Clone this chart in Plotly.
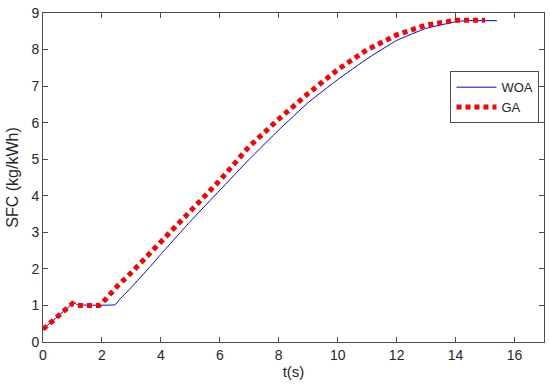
import plotly.graph_objects as go

# WOA series
woa_t = [0, 1.0, 1.05, 1.15, 2.45, 2.55, 3.0, 3.6, 4, 5, 6, 7, 8, 9, 10, 11, 12, 13, 14, 14.4, 15.4]
woa_v = [0.35, 1.05, 1.09, 1.02, 1.02, 1.12, 1.5, 2.03, 2.4, 3.3, 4.15, 5.0, 5.8, 6.55, 7.18, 7.75, 8.25, 8.58, 8.76, 8.79, 8.79]

# GA series
ga_t = [0, 1.0, 1.1, 1.9, 2.0, 2.5, 3, 4, 5, 6, 7, 8, 9, 10, 11, 12, 13, 14, 15.0]
ga_v = [0.35, 1.05, 1.0, 1.0, 1.06, 1.51, 1.9, 2.72, 3.58, 4.42, 5.35, 6.1, 6.8, 7.45, 8.0, 8.4, 8.67, 8.8, 8.8]

x_ticks = [0, 2, 4, 6, 8, 10, 12, 14, 16]
y_ticks = [0, 1, 2, 3, 4, 5, 6, 7, 8, 9]

FONT = "Liberation Sans, Arial"

fig = go.Figure()
fig.add_trace(go.Scatter(x=woa_t, y=woa_v, mode="lines", name="WOA",
                         line=dict(color="#0000ff", width=1, shape="spline", smoothing=0.3)))
fig.add_trace(go.Scatter(x=ga_t, y=ga_v, mode="lines", name="GA",
                         line=dict(color="#ff0000", width=5, dash="5px,4px")))

axis_common = dict(showgrid=False, zeroline=False, showline=True, linecolor="#4d4d4d",
                   linewidth=1, mirror="ticks", ticks="inside", ticklen=5,
                   tickcolor="#4d4d4d", tickfont=dict(family=FONT, size=14, color="#262626"))

fig.update_xaxes(range=[0, 17], tickvals=x_ticks, title=dict(text="t(s)", standoff=3,
                 font=dict(family=FONT, size=15, color="#262626")), **axis_common)
fig.update_yaxes(range=[0, 9], tickvals=y_ticks, title=dict(text="SFC (kg/kWh)", standoff=8,
                 font=dict(family=FONT, size=16, color="#262626")), **axis_common)

fig.update_layout(
    width=550, height=384,
    margin=dict(l=43, r=5, t=9, b=42),
    paper_bgcolor="white", plot_bgcolor="white",
    showlegend=True,
    legend=dict(x=0.991, y=0.823, xanchor="right", yanchor="top",
                bordercolor="#4d4d4d", borderwidth=1, bgcolor="white",
                font=dict(family=FONT, size=13, color="#262626"),
                tracegroupgap=0, itemwidth=40),
)

fig.write_html("out.html", config={"displayModeBar": False},
               post_script="document.body.style.margin='0';document.body.style.overflow='hidden';")
